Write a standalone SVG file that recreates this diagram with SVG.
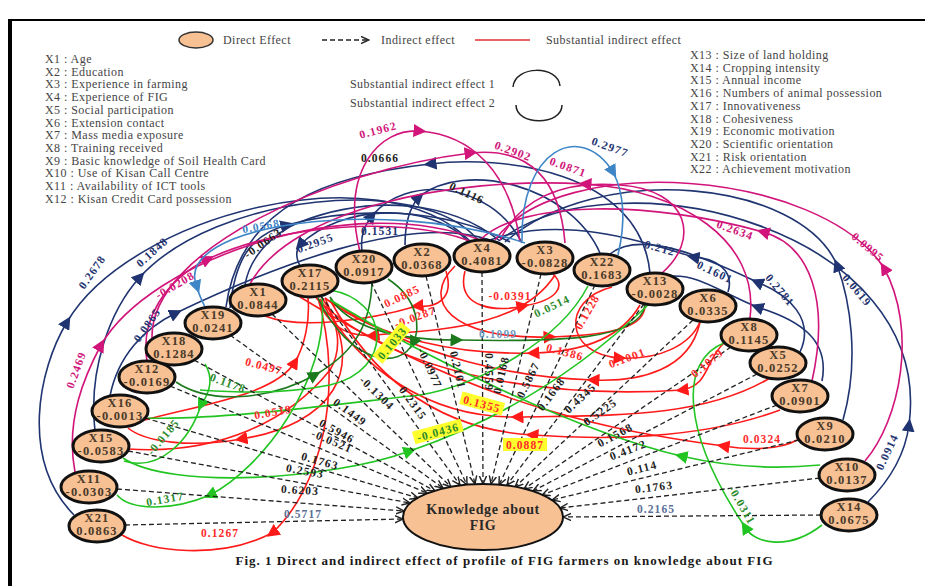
<svg xmlns="http://www.w3.org/2000/svg" width="925" height="586" viewBox="0 0 925 586">
<style>
.bg{fill:#fff}
.leg{font-family:"Liberation Serif",serif;font-size:12px;fill:#444;letter-spacing:0.45px}
.nd ellipse{fill:#f7c194;stroke:#111;stroke-width:3}
.nt{font-family:"Liberation Serif",serif;font-size:12.5px;font-weight:bold;fill:#4a3a2a;text-anchor:middle;letter-spacing:1.2px}
.d{stroke:#222;stroke-width:1.3;stroke-dasharray:5 3;fill:none;marker-end:url(#ah)}
.c{fill:none;stroke-width:1.6}
.cn{stroke:#1f3470;marker-mid:url(#mN)}
.cm{stroke:#d1157a;marker-mid:url(#mM)}
.cb{stroke:#3f86c7;marker-mid:url(#mB)}
.cr{stroke:#ff1a1a;marker-mid:url(#mR)}
.cg{stroke:#22c422;marker-mid:url(#mG)}
.cd{stroke:#1c7a1c;marker-mid:url(#mD)}
.nm{marker-mid:none}
.l{font-family:"Liberation Serif",serif;font-size:11.5px;font-weight:bold;text-anchor:middle;letter-spacing:1.1px}
.ld{fill:#222}
.ln{fill:#1f3470}
.lm{fill:#d1157a}
.lb{fill:#3f86c7}
.lr{fill:#ff2a2a}
.lg{fill:#2a8a2a}
.hl{fill:#ffff2e}
</style>
<defs>
<marker id="ah" viewBox="0 0 10 10" refX="9" refY="5" markerWidth="9" markerHeight="9" markerUnits="userSpaceOnUse" orient="auto"><path d="M0,1 L9,5 L0,9" fill="none" stroke="#222" stroke-width="1.6"/></marker>
<marker id="mN" viewBox="0 0 10 10" refX="5" refY="5" markerWidth="13" markerHeight="13" markerUnits="userSpaceOnUse" orient="auto"><path d="M0,0 L10,5 L0,10 z" fill="#1f3470"/></marker>
<marker id="mM" viewBox="0 0 10 10" refX="5" refY="5" markerWidth="13" markerHeight="13" markerUnits="userSpaceOnUse" orient="auto"><path d="M0,0 L10,5 L0,10 z" fill="#d1157a"/></marker>
<marker id="mB" viewBox="0 0 10 10" refX="5" refY="5" markerWidth="13" markerHeight="13" markerUnits="userSpaceOnUse" orient="auto"><path d="M0,0 L10,5 L0,10 z" fill="#3f86c7"/></marker>
<marker id="mR" viewBox="0 0 10 10" refX="5" refY="5" markerWidth="13" markerHeight="13" markerUnits="userSpaceOnUse" orient="auto"><path d="M0,0 L10,5 L0,10 z" fill="#ff1a1a"/></marker>
<marker id="mG" viewBox="0 0 10 10" refX="5" refY="5" markerWidth="13" markerHeight="13" markerUnits="userSpaceOnUse" orient="auto"><path d="M0,0 L10,5 L0,10 z" fill="#22c422"/></marker>
<marker id="mD" viewBox="0 0 10 10" refX="5" refY="5" markerWidth="13" markerHeight="13" markerUnits="userSpaceOnUse" orient="auto"><path d="M0,0 L10,5 L0,10 z" fill="#1c7a1c"/></marker>
</defs>
<rect class="bg" x="0" y="0" width="925" height="586"/>
<!-- frame -->
<rect x="8" y="19" width="4" height="567" fill="#000"/>
<line x1="8" y1="20" x2="925" y2="20" stroke="#000" stroke-width="2"/>

<!-- legend -->
<g id="legend">
<ellipse cx="196" cy="40" rx="17" ry="8" fill="#f7c194" stroke="#333" stroke-width="1.5"/>
<text class="leg" x="223" y="44">Direct Effect</text>
<line x1="322" y1="40" x2="369" y2="40" class="d"/>
<text class="leg" x="381" y="44">Indirect effect</text>
<line x1="475" y1="40" x2="530" y2="40" stroke="#e03030" stroke-width="1.5"/>
<text class="leg" x="546" y="44">Substantial indirect effect</text>
<text class="leg" x="350" y="88">Substantial indirect effect  1</text>
<text class="leg" x="350" y="107">Substantial indirect effect  2</text>
<path d="M513,87 C515,65 558,65 560,86" fill="none" stroke="#222" stroke-width="1.5"/>
<path d="M516,105 C516,126 562,126 562,105" fill="none" stroke="#222" stroke-width="1.5"/>
<text class="leg" x="45" y="63">X1  : Age</text>
<text class="leg" x="45" y="75.7">X2  : Education</text>
<text class="leg" x="45" y="88.4">X3  : Experience in farming</text>
<text class="leg" x="45" y="101.1">X4  : Experience of FIG</text>
<text class="leg" x="45" y="113.8">X5  : Social participation</text>
<text class="leg" x="45" y="126.5">X6  : Extension contact</text>
<text class="leg" x="45" y="139.2">X7  : Mass media exposure</text>
<text class="leg" x="45" y="151.9">X8  : Training received</text>
<text class="leg" x="45" y="164.6">X9  : Basic knowledge of Soil Health Card</text>
<text class="leg" x="45" y="177.3">X10  : Use of Kisan Call Centre</text>
<text class="leg" x="45" y="190">X11  : Availability of ICT tools</text>
<text class="leg" x="45" y="202.7">X12  : Kisan Credit Card possession</text>
<text class="leg" x="690" y="59">X13  : Size of land holding</text>
<text class="leg" x="690" y="71.7">X14  : Cropping intensity</text>
<text class="leg" x="690" y="84.4">X15  : Annual income</text>
<text class="leg" x="690" y="97.1">X16  : Numbers of animal possession</text>
<text class="leg" x="690" y="109.8">X17  : Innovativeness</text>
<text class="leg" x="690" y="122.5">X18  : Cohesiveness</text>
<text class="leg" x="690" y="135.2">X19  : Economic motivation</text>
<text class="leg" x="690" y="147.9">X20  : Scientific orientation</text>
<text class="leg" x="690" y="160.6">X21  : Risk orientation</text>
<text class="leg" x="690" y="173.3">X22  : Achievement motivation</text>
</g>

<g id="connectors">
<!-- navy -->
<path class="c cn" d="M74,515 C20,460 38,370 67,322 C130,215 380,150 470,241"/>
<path class="c cn" d="M95,431 C88,370 110,310 140,277 C215,195 420,172 478,240"/>
<path class="c cn" d="M110,396 C118,355 145,328 176,313 C270,268 410,212 490,240"/>
<path class="c cn nm" d="M245,285 C250,255 275,232 300,222 C370,195 450,200 500,241"/>
<path class="c cn" d="M470,243 C430,200 340,205 300,245 C296,250 296,258 300,266"/>
<path class="c cn" d="M362,251 C360,235 365,225 372,216 C405,175 490,180 522,243"/>
<path class="c cn" d="M650,273 C640,170 500,155 430,164 C330,175 240,205 226,307"/>
<path class="c cn" d="M405,245 C405,222 410,207 419,197 C465,160 570,185 600,253"/>
<path class="c cn" d="M230,308 C235,260 250,235 287,225 C350,208 440,205 510,242"/>
<path class="c cn" d="M728,292 C735,270 715,258 693,257 C640,240 560,215 490,240"/>
<path class="c cn" d="M822,381 C830,340 800,320 757,307 C720,292 700,275 672,276"/>
<path class="c cn" d="M800,352 C815,320 790,295 757,282 C700,255 640,230 610,254"/>
<path class="c cn" d="M843,420 C860,360 850,300 837,265 C800,180 600,160 505,242"/>
<path class="c cn" d="M868,502 C890,480 905,455 909,425 C935,230 620,150 500,240"/>
<!-- magenta -->
<path class="c cm" d="M360,252 C340,170 380,128 420,131 C470,135 510,170 520,242"/>
<path class="c cm" d="M152,338 C150,250 330,170 471,153 C530,147 560,180 565,243"/>
<path class="c cm" d="M750,318 C760,240 680,190 585,184 C450,176 290,210 250,284"/>
<path class="c cm" d="M812,381 C830,300 810,245 763,232 C650,200 520,200 480,240"/>
<path class="c cm" d="M865,461 C900,420 918,330 884,268 C820,170 560,150 495,240"/>
<path class="c cm" d="M147,361 C140,320 165,280 208,259 C280,225 400,215 470,241"/>
<path class="c cm" d="M75,472 C65,420 85,375 101,345 C150,260 350,190 480,240"/>
<path class="c cm nm" d="M662,273 C700,240 690,190 620,185 C560,180 520,200 500,240"/>
<!-- light blue -->
<path class="c cb" d="M522,241 C520,150 580,120 613,172 C625,195 625,225 618,255"/>
<path class="c cb" d="M525,243 C380,195 170,225 197,287 C199,295 202,301 205,307"/>
<!-- red -->
<path class="c cr" d="M318,298 C345,390 320,490 272,533 C220,560 150,552 122,535"/>
<path class="c cr" d="M322,298 C370,370 330,425 241,439 C190,448 145,442 128,428"/>
<path class="c cr" d="M145,420 C200,405 275,395 295,362 C305,345 310,320 308,298"/>
<path class="c cr" d="M446,271 C455,300 435,308 417,306 C370,320 300,330 265,316"/>
<path class="c cr" d="M555,275 C520,330 430,330 373,335 C345,338 325,322 318,298"/>
<path class="c cr" d="M465,271 C455,310 500,312 523,306 C560,300 565,285 553,274"/>
<path class="c cr" d="M455,266 C420,300 450,340 550,337 C620,335 645,325 645,305"/>
<path class="c cr" d="M612,287 C560,300 565,355 620,358 C660,360 690,345 700,322"/>
<path class="c cr" d="M700,322 C690,370 640,382 593,380 C520,378 420,360 330,300"/>
<path class="c cr" d="M640,305 C620,340 580,352 533,353 C460,355 380,340 325,298"/>
<path class="c cr" d="M770,378 C700,420 600,415 517,417 C430,418 360,370 320,299"/>
<path class="c cr" d="M780,410 C700,440 600,440 532,435 C450,430 380,390 330,300"/>
<path class="c cr" d="M724,343 C705,360 710,385 682,390 C560,398 400,380 316,298"/>
<path class="c cr" d="M797,440 C780,450 750,450 723,446 C650,435 500,420 300,297"/>
<path class="c cr nm" d="M128,449 C220,455 290,420 330,370 C345,345 335,320 325,298"/>
<!-- green -->
<path class="c cg" d="M322,297 C330,380 260,470 210,495 C170,512 130,510 117,495"/>
<path class="c cg" d="M205,364 C215,380 208,395 201,405 C190,440 160,472 124,461"/>
<path class="c cd" d="M176,382 C210,405 270,400 315,375 C350,355 370,330 372,283"/>
<path class="c cd" d="M330,297 C350,330 400,340 457,340 C560,342 640,340 645,305"/>
<path class="c cd" d="M388,279 C420,300 420,330 413,343 C400,370 350,365 318,298"/>
<path class="c cg nm" d="M588,286 C560,340 480,385 420,395 C330,405 220,420 148,418"/>
<path class="c cg" d="M822,525 C790,550 755,545 745,527 C680,430 680,360 724,343"/>
<path class="c cg" d="M820,465 C770,470 720,465 681,456 C580,432 430,360 330,300"/>
<path class="c cg" d="M123,458 C170,490 330,480 410,451 C500,420 580,370 648,305"/>
<path class="c cg nm" d="M330,290 C390,300 395,370 330,385 C280,395 230,392 200,390"/>
<!-- dashed direct lines -->
<path class="d" d="M125,525 L403,519"/>
<path class="d" d="M117,489 L404,511"/>
<path class="d" d="M128,451 L410,503"/>
<path class="d" d="M145,418 L418,498"/>
<path class="d" d="M170,386 L427,493"/>
<path class="d" d="M194,360 L435,491"/>
<path class="d" d="M230,335 L443,488"/>
<path class="d" d="M272,314 L451,487"/>
<path class="d" d="M321,296 L460,485"/>
<path class="d" d="M371,282 L467,485"/>
<path class="d" d="M426,276 L475,484"/>
<path class="d" d="M482,272 L483,484"/>
<path class="d" d="M541,274 L491,484"/>
<path class="d" d="M595,285 L499,485"/>
<path class="d" d="M644,304 L507,485"/>
<path class="d" d="M693,320 L515,487"/>
<path class="d" d="M731,347 L524,489"/>
<path class="d" d="M757,374 L533,491"/>
<path class="d" d="M777,405 L542,495"/>
<path class="d" d="M799,440 L552,500"/>
<path class="d" d="M820,478 L560,508"/>
<path class="d" d="M821,515 L563,517"/>
</g>

<g id="labels">
<!-- direct effect labels -->
<text class="l" transform="translate(303 514)" y="4" style="fill:#5a6f98">0.5717</text>
<text class="l ld" transform="translate(300 490) rotate(4)" y="4">0.6203</text>
<text class="l ld" transform="translate(305 471) rotate(10)" y="4">0.2593</text>
<text class="l ld" transform="translate(320 461) rotate(16)" y="4">0.1763</text>
<text class="l ld" transform="translate(332 441) rotate(23)" y="4">-0.0521</text>
<text class="l ld" transform="translate(337 431) rotate(29)" y="4">0.5946</text>
<text class="l ld" transform="translate(350 412) rotate(36)" y="4">0.1449</text>
<text class="l ld" transform="translate(377 393) rotate(44)" y="4">-0.1304</text>
<text class="l ld" transform="translate(413 403) rotate(54)" y="4">0.2315</text>
<text class="l ld" transform="translate(430 368) rotate(65)" y="4">-0.0977</text>
<text class="l ld" transform="translate(458 370) rotate(77)" y="4">0.2101</text>
<text class="l ld" transform="translate(489 372) rotate(90)" y="4">0.4559</text>
<text class="l ld" transform="translate(501 375) rotate(-77)" y="4">0.0168</text>
<text class="l ld" transform="translate(528 380) rotate(-64)" y="4">0.5867</text>
<text class="l ld" transform="translate(551 394) rotate(-53)" y="4">0.1668</text>
<text class="l ld" transform="translate(580 398) rotate(-43)" y="4">0.4345</text>
<text class="l ld" transform="translate(600 412) rotate(-35)" y="4">0.5225</text>
<text class="l ld" transform="translate(615 435) rotate(-28)" y="4">0.1568</text>
<text class="l ld" transform="translate(628 450) rotate(-21)" y="4">0.4172</text>
<text class="l ld" transform="translate(642 468) rotate(-14)" y="4">0.114</text>
<text class="l ld" transform="translate(654 487) rotate(-7)" y="4">0.1763</text>
<text class="l" transform="translate(656 509)" y="4" style="fill:#5a6f98">0.2165</text>
<!-- navy -->
<text class="l ln" transform="translate(92 272) rotate(-55)" y="4">0.2678</text>
<text class="l ln" transform="translate(152 252) rotate(-42)" y="4">0.1848</text>
<text class="l ln" transform="translate(147 325) rotate(-55)" y="4">0.0865</text>
<text class="l ld" transform="translate(263 243) rotate(-35)" y="4">-0.0663</text>
<text class="l ln" transform="translate(315 243) rotate(-20)" y="4">0.2955</text>
<text class="l ln" transform="translate(380 231)" y="4">0.1531</text>
<text class="l ld" transform="translate(380 158)" y="4">0.0666</text>
<text class="l ld" transform="translate(467 193) rotate(25)" y="4">0.1116</text>
<text class="l ln" transform="translate(660 248) rotate(15)" y="4">0.212</text>
<text class="l ln" transform="translate(715 272) rotate(25)" y="4">0.1601</text>
<text class="l ln" transform="translate(780 290) rotate(50)" y="4">0.2781</text>
<text class="l ln" transform="translate(857 290) rotate(50)" y="4">0.0619</text>
<text class="l ln" transform="translate(887 452) rotate(-65)" y="4">0.0914</text>
<text class="l ln" transform="translate(610 147) rotate(20)" y="4">0.2977</text>
<!-- magenta -->
<text class="l lm" transform="translate(378 130) rotate(-15)" y="4">0.1962</text>
<text class="l lm" transform="translate(513 151) rotate(20)" y="4">0.2902</text>
<text class="l lm" transform="translate(568 167) rotate(20)" y="4">0.0871</text>
<text class="l lm" transform="translate(735 230) rotate(20)" y="4">0.2634</text>
<text class="l lm" transform="translate(868 247) rotate(40)" y="4">0.0995</text>
<text class="l lm" transform="translate(175 285) rotate(-30)" y="4">-0.0208</text>
<text class="l lm" transform="translate(76 370) rotate(-70)" y="4">0.2469</text>
<!-- light blue -->
<text class="l lb" transform="translate(261 226) rotate(-10)" y="4">0.0568</text>
<!-- red -->
<text class="l lr" transform="translate(220 533)" y="4">0.1267</text>
<text class="l lr" transform="translate(273 412) rotate(-10)" y="4">0.0519</text>
<text class="l lr" transform="translate(264 366) rotate(15)" y="4">0.0497</text>
<text class="l lr" transform="translate(402 296) rotate(-25)" y="4">0.0885</text>
<text class="l lr" transform="translate(415 317) rotate(-20)" y="4">-0.0287</text>
<text class="l lr" transform="translate(510 296)" y="4">-0.0391</text>
<text class="l lr" transform="translate(587 312) rotate(-60)" y="4">0.1228</text>
<text class="l lr" transform="translate(565 352) rotate(15)" y="4">0.1386</text>
<text class="l lr" transform="translate(627 358) rotate(-20)" y="4">0.1001</text>
<text class="l lr" transform="translate(707 363) rotate(-40)" y="4">0.1079</text>
<text class="l lr" transform="translate(762 439)" y="4">0.0324</text>
<g transform="translate(482 404) rotate(15)"><rect class="hl" x="-22" y="-7" width="44" height="13"/><text class="l lr" y="4">0.1355</text></g>
<g transform="translate(525 445)"><rect class="hl" x="-22" y="-7" width="44" height="13"/><text class="l lr" y="4">0.0887</text></g>
<!-- green -->
<text class="l lg" transform="translate(165 499) rotate(-10)" y="4">0.1317</text>
<text class="l lg" transform="translate(163 437) rotate(-50)" y="4">-0.0185</text>
<text class="l lg" transform="translate(228 383) rotate(20)" y="4">0.1178</text>
<text class="l lg" transform="translate(552 306) rotate(-25)" y="4">0.0514</text>
<text class="l lg" transform="translate(742 505) rotate(60)" y="4">-0.0311</text>
<text class="l" transform="translate(498 334)" y="4" style="fill:#6f9ac0">0.1099</text>
<g transform="translate(392 343) rotate(-50)"><rect class="hl" x="-22" y="-7" width="44" height="13"/><text class="l lg" y="4">0.1033</text></g>
<g transform="translate(438 432) rotate(-15)"><rect class="hl" x="-25" y="-7" width="50" height="13"/><text class="l lg" y="4">-0.0436</text></g>
</g>

<g id="node-X21" class="nd"><ellipse cx="97" cy="526" rx="28" ry="16"/><text class="nt" x="97" y="521.5">X21</text><text class="nt" x="97" y="534.5">0.0863</text></g>
<g id="node-X11" class="nd"><ellipse cx="89" cy="487" rx="28" ry="16"/><text class="nt" x="89" y="482.5">X11</text><text class="nt" x="89" y="495.5">-0.0303</text></g>
<g id="node-X15" class="nd"><ellipse cx="101" cy="446" rx="28" ry="16"/><text class="nt" x="101" y="441.5">X15</text><text class="nt" x="101" y="454.5">-0.0583</text></g>
<g id="node-X16" class="nd"><ellipse cx="120" cy="411" rx="28" ry="16"/><text class="nt" x="120" y="406.5">X16</text><text class="nt" x="120" y="419.5">-0.0013</text></g>
<g id="node-X12" class="nd"><ellipse cx="147" cy="377" rx="28" ry="16"/><text class="nt" x="147" y="372.5">X12</text><text class="nt" x="147" y="385.5">-0.0169</text></g>
<g id="node-X18" class="nd"><ellipse cx="174" cy="349" rx="28" ry="16"/><text class="nt" x="174" y="344.5">X18</text><text class="nt" x="174" y="357.5">0.1284</text></g>
<g id="node-X19" class="nd"><ellipse cx="213" cy="323" rx="28" ry="16"/><text class="nt" x="213" y="318.5">X19</text><text class="nt" x="213" y="331.5">0.0241</text></g>
<g id="node-X1" class="nd"><ellipse cx="258" cy="300" rx="28" ry="16"/><text class="nt" x="258" y="295.5">X1</text><text class="nt" x="258" y="308.5">0.0844</text></g>
<g id="node-X17" class="nd"><ellipse cx="310" cy="281" rx="28" ry="16"/><text class="nt" x="310" y="276.5">X17</text><text class="nt" x="310" y="289.5">0.2115</text></g>
<g id="node-X20" class="nd"><ellipse cx="364" cy="267" rx="28" ry="16"/><text class="nt" x="364" y="262.5">X20</text><text class="nt" x="364" y="275.5">0.0917</text></g>
<g id="node-X2" class="nd"><ellipse cx="422" cy="260" rx="28" ry="16"/><text class="nt" x="422" y="255.5">X2</text><text class="nt" x="422" y="268.5">0.0368</text></g>
<g id="node-X4" class="nd"><ellipse cx="482" cy="256" rx="28" ry="16"/><text class="nt" x="482" y="251.5">X4</text><text class="nt" x="482" y="264.5">0.4081</text></g>
<g id="node-X3" class="nd"><ellipse cx="545" cy="258" rx="28" ry="16"/><text class="nt" x="545" y="253.5">X3</text><text class="nt" x="545" y="266.5">-0.0828</text></g>
<g id="node-X22" class="nd"><ellipse cx="602" cy="270" rx="28" ry="16"/><text class="nt" x="602" y="265.5">X22</text><text class="nt" x="602" y="278.5">0.1683</text></g>
<g id="node-X13" class="nd"><ellipse cx="655" cy="289" rx="28" ry="16"/><text class="nt" x="655" y="284.5">X13</text><text class="nt" x="655" y="297.5">-0.0028</text></g>
<g id="node-X6" class="nd"><ellipse cx="708" cy="306" rx="28" ry="16"/><text class="nt" x="708" y="301.5">X6</text><text class="nt" x="708" y="314.5">0.0335</text></g>
<g id="node-X8" class="nd"><ellipse cx="749" cy="335" rx="28" ry="16"/><text class="nt" x="749" y="330.5">X8</text><text class="nt" x="749" y="343.5">0.1145</text></g>
<g id="node-X5" class="nd"><ellipse cx="778" cy="363" rx="28" ry="16"/><text class="nt" x="778" y="358.5">X5</text><text class="nt" x="778" y="371.5">0.0252</text></g>
<g id="node-X7" class="nd"><ellipse cx="800" cy="396" rx="28" ry="16"/><text class="nt" x="800" y="391.5">X7</text><text class="nt" x="800" y="404.5">0.0901</text></g>
<g id="node-X9" class="nd"><ellipse cx="825" cy="434" rx="28" ry="16"/><text class="nt" x="825" y="429.5">X9</text><text class="nt" x="825" y="442.5">0.0210</text></g>
<g id="node-X10" class="nd"><ellipse cx="847" cy="475" rx="28" ry="16"/><text class="nt" x="847" y="470.5">X10</text><text class="nt" x="847" y="483.5">0.0137</text></g>
<g id="node-X14" class="nd"><ellipse cx="849" cy="515" rx="28" ry="16"/><text class="nt" x="849" y="510.5">X14</text><text class="nt" x="849" y="523.5">0.0675</text></g>
<g id="node-Y" class="nd"><ellipse cx="483" cy="517" rx="80" ry="33" style="stroke-width:2"/><text class="nt" x="483" y="514" style="font-size:14px;letter-spacing:0.6px;fill:#2a2a2a">Knowledge about</text><text class="nt" x="483" y="530" style="font-size:14px;letter-spacing:0.6px;fill:#2a2a2a">FIG</text></g>

<text x="504" y="565" text-anchor="middle" textLength="537" style="font-family:'Liberation Serif',serif;font-size:13px;font-weight:bold;fill:#1a1a1a">Fig. 1 Direct and indirect effect of profile of FIG farmers on knowledge about FIG</text>
</svg>
